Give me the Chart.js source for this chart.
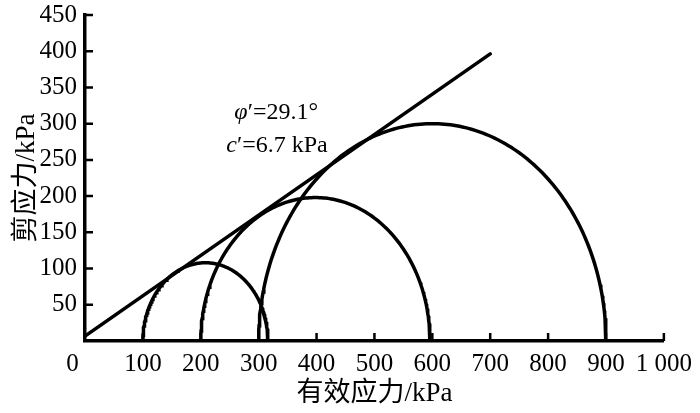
<!DOCTYPE html>
<html>
<head>
<meta charset="utf-8">
<style>
  html, body { margin: 0; padding: 0; background: #fff; }
  canvas { display: block; }
</style>
<script src="https://cdn.jsdelivr.net/npm/chart.js@4/dist/chart.umd.min.js"></script>
</head>
<body>
<canvas id="mohr" width="700" height="413"></canvas>
<script>
// Mohr circles: minor and major effective stress of each test (kPa)
const sigma3 = [100, 200, 300];
const sigma1 = [316, 596, 900];

// failure envelope
const phiDeg = 29.1;
const cohesion = 6.7;
const envelopeEnd = 700;

const xTicks = [0, 100, 200, 300, 400, 500, 600, 700, 800, 900, 1000];
const yTicks = [0, 50, 100, 150, 200, 250, 300, 350, 400, 450];

const FONT = '"Liberation Serif", "Times New Roman", "Noto Sans CJK SC", serif';
const CJK = '"Liberation Serif", "Noto Sans CJK SC", serif';
const LW = 3.5;

// points of a semicircle drawn from its two principal stresses
function semicircle(s3, s1) {
  const c = (s1 + s3) / 2, r = (s1 - s3) / 2;
  const pts = [];
  for (let i = 0; i <= 180; i++) {
    const a = Math.PI - i * Math.PI / 180;
    pts.push({ x: c + r * Math.cos(a), y: r * Math.sin(a) });
  }
  return pts;
}

const datasets = sigma3.map((s3, i) => ({
  data: semicircle(s3, sigma1[i]),
  showLine: true,
  borderColor: '#000',
  borderWidth: LW,
  pointRadius: 0,
  tension: 0
}));

const tanPhi = Math.tan(phiDeg * Math.PI / 180);
datasets.push({
  data: [{ x: 0, y: cohesion }, { x: envelopeEnd, y: cohesion + envelopeEnd * tanPhi }],
  showLine: true,
  borderColor: '#000',
  borderWidth: LW,
  borderCapStyle: 'round',
  pointRadius: 0
});

// tick marks pointing into the plot
const innerTicks = {
  id: 'innerTicks',
  afterDraw(chart) {
    const { ctx, scales: { x, y } } = chart;
    ctx.save();
    ctx.strokeStyle = '#000';
    ctx.lineWidth = 2.5;
    ctx.beginPath();
    xTicks.slice(1).forEach(v => {
      const px = x.getPixelForValue(v);
      ctx.moveTo(px, y.bottom);
      ctx.lineTo(px, y.bottom - 8);
    });
    yTicks.slice(1).forEach(v => {
      const py = y.getPixelForValue(v);
      ctx.moveTo(x.left, py);
      ctx.lineTo(x.left + 8, py);
    });
    ctx.stroke();
    ctx.restore();
  }
};

// φ' and c' note
const envelopeNote = {
  id: 'envelopeNote',
  afterDraw(chart) {
    const { ctx, scales: { x, y } } = chart;
    const parts = (list, px, py) => {
      let cx = px;
      list.forEach(([txt, italic]) => {
        ctx.font = (italic ? 'italic ' : '') + '24px ' + FONT;
        ctx.fillText(txt, cx, py);
        cx += ctx.measureText(txt).width;
      });
    };
    ctx.save();
    ctx.fillStyle = '#000';
    ctx.textBaseline = 'alphabetic';
    parts([['φ', true], ['′=' + phiDeg.toFixed(1) + '°', false]],
      x.getPixelForValue(258), y.getPixelForValue(306));
    parts([['c', true], ['′=' + cohesion + ' kPa', false]],
      x.getPixelForValue(244), y.getPixelForValue(261));
    ctx.restore();
  }
};

new Chart(document.getElementById('mohr'), {
  type: 'scatter',
  data: { datasets },
  options: {
    responsive: false,
    animation: false,
    layout: { padding: { top: 15, right: 31, left: 0, bottom: 0 } },
    plugins: { legend: { display: false }, tooltip: { enabled: false } },
    scales: {
      x: {
        type: 'linear',
        min: 0,
        max: 1000,
        afterBuildTicks: s => { s.ticks = xTicks.map(v => ({ value: v })); },
        afterFit: s => { s.height = 72; },
        grid: { display: false, drawTicks: false },
        border: { display: true, color: '#000', width: LW },
        ticks: {
          color: '#000',
          padding: 8,
          maxRotation: 0,
          autoSkip: false,
          font: { family: FONT, size: 25 },
          callback: v => v === 0 ? '0    ' : (v === 1000 ? '1 000' : String(v))
        },
        title: {
          display: true,
          text: '有效应力/kPa',
          color: '#000',
          font: { family: CJK, size: 27 },
          padding: { top: 0, bottom: 3 }
        }
      },
      y: {
        type: 'linear',
        min: 0,
        max: 450,
        afterBuildTicks: s => { s.ticks = yTicks.map(v => ({ value: v })); },
        afterFit: s => { s.width = 85; s.paddingTop = 0; s.paddingBottom = 0; },
        grid: { display: false, drawTicks: false },
        border: { display: true, color: '#000', width: LW },
        ticks: {
          color: '#000',
          padding: 8,
          autoSkip: false,
          font: { family: FONT, size: 25 },
          callback: v => v === 0 ? '' : String(v)
        },
        title: {
          display: true,
          text: '剪应力/kPa',
          color: '#000',
          font: { family: CJK, size: 27 },
          padding: { top: 11, bottom: 0 }
        }
      }
    }
  },
  plugins: [innerTicks, envelopeNote]
});
</script>
</body>
</html>
